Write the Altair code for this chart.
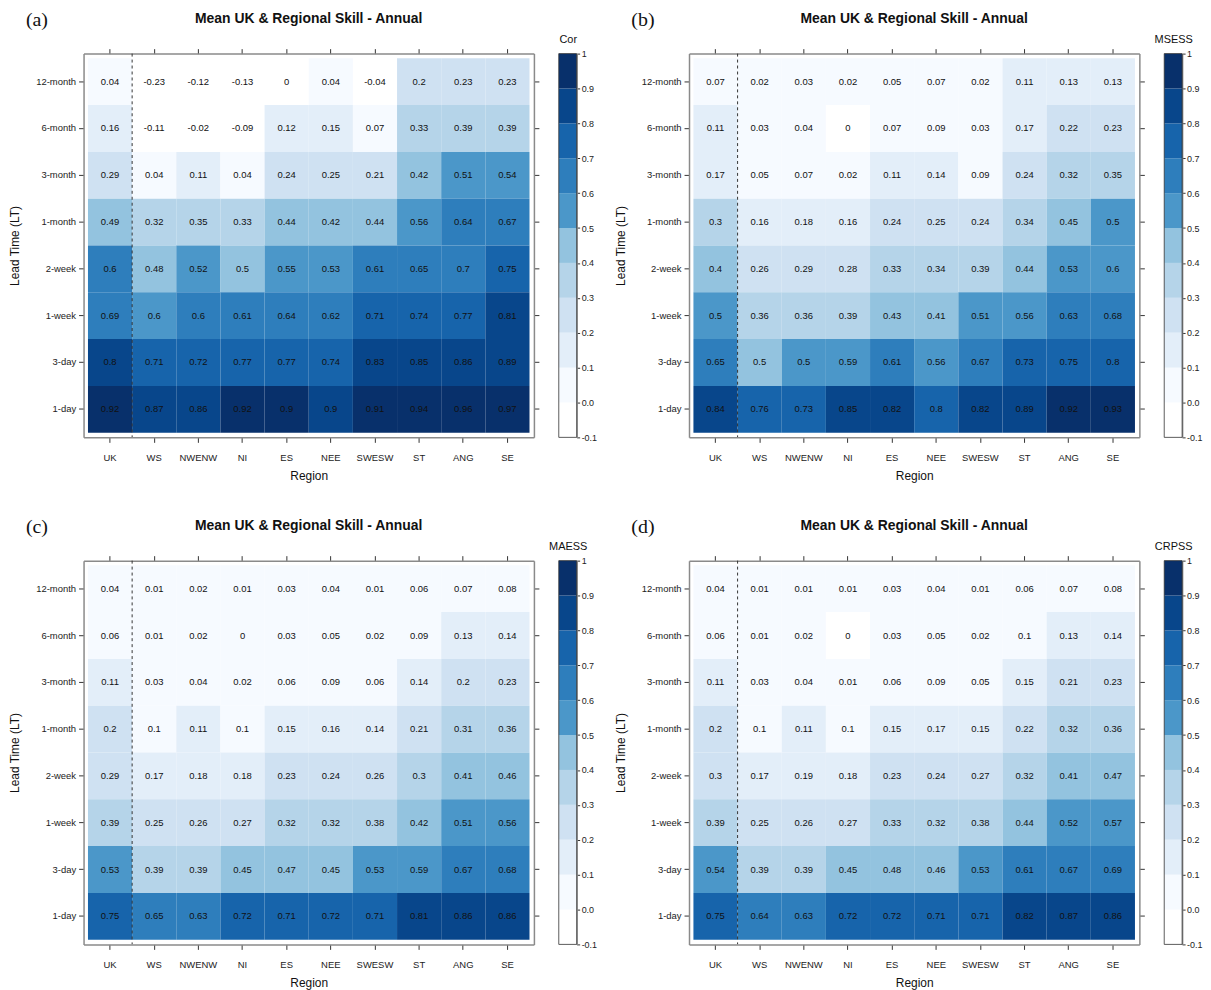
import altair as alt
import pandas as pd

REGIONS = ["UK", "WS", "NWENW", "NI", "ES", "NEE", "SWESW", "ST", "ANG", "SE"]
LEADS = ["12-month", "6-month", "3-month", "1-month", "2-week", "1-week", "3-day", "1-day"]
TITLE = "Mean UK & Regional Skill - Annual"

THRESHOLDS = [0.0, 0.1, 0.2, 0.3, 0.4, 0.5, 0.6, 0.7, 0.8, 0.9]
COLORS = ["#ffffff", "#f6faff", "#e3eef9", "#cfe1f2", "#b5d4e9", "#93c3df",
          "#4b97c9", "#2e7ebc", "#1764ab", "#08468b", "#08306b"]
BAR_EDGES = [-0.1, 0.0, 0.1, 0.2, 0.3, 0.4, 0.5, 0.6, 0.7, 0.8, 0.9, 1.0]

# rows: LEADS (top to bottom), columns: REGIONS
COR = [
    [0.04, -0.23, -0.12, -0.13, -0.001, 0.04, -0.04, 0.2, 0.23, 0.23],
    [0.16, -0.11, -0.02, -0.09, 0.12, 0.15, 0.07, 0.33, 0.39, 0.39],
    [0.29, 0.04, 0.11, 0.04, 0.24, 0.25, 0.21, 0.42, 0.51, 0.54],
    [0.49, 0.32, 0.35, 0.33, 0.44, 0.42, 0.44, 0.56, 0.64, 0.67],
    [0.6, 0.48, 0.52, 0.499, 0.55, 0.53, 0.61, 0.65, 0.699, 0.75],
    [0.69, 0.599, 0.6, 0.61, 0.64, 0.62, 0.71, 0.74, 0.77, 0.81],
    [0.8, 0.71, 0.72, 0.77, 0.77, 0.74, 0.83, 0.85, 0.86, 0.89],
    [0.92, 0.87, 0.86, 0.92, 0.9, 0.899, 0.91, 0.94, 0.96, 0.97],
]
MSESS = [
    [0.07, 0.02, 0.03, 0.02, 0.05, 0.07, 0.02, 0.11, 0.13, 0.13],
    [0.11, 0.03, 0.04, -0.001, 0.07, 0.09, 0.03, 0.17, 0.22, 0.23],
    [0.17, 0.05, 0.07, 0.02, 0.11, 0.14, 0.09, 0.24, 0.32, 0.35],
    [0.3, 0.16, 0.18, 0.16, 0.24, 0.25, 0.24, 0.34, 0.45, 0.5],
    [0.4, 0.26, 0.29, 0.28, 0.33, 0.34, 0.39, 0.44, 0.53, 0.599],
    [0.5, 0.36, 0.36, 0.39, 0.43, 0.41, 0.51, 0.56, 0.63, 0.68],
    [0.65, 0.499, 0.5, 0.59, 0.61, 0.56, 0.67, 0.73, 0.75, 0.799],
    [0.84, 0.76, 0.73, 0.85, 0.82, 0.799, 0.82, 0.89, 0.92, 0.93],
]
MAESS = [
    [0.04, 0.01, 0.02, 0.01, 0.03, 0.04, 0.01, 0.06, 0.07, 0.08],
    [0.06, 0.01, 0.02, 0.001, 0.03, 0.05, 0.02, 0.09, 0.13, 0.14],
    [0.11, 0.03, 0.04, 0.02, 0.06, 0.09, 0.06, 0.14, 0.2, 0.23],
    [0.2, 0.099, 0.11, 0.099, 0.15, 0.16, 0.14, 0.21, 0.31, 0.36],
    [0.29, 0.17, 0.18, 0.18, 0.23, 0.24, 0.26, 0.3, 0.41, 0.46],
    [0.39, 0.25, 0.26, 0.27, 0.32, 0.32, 0.38, 0.42, 0.51, 0.56],
    [0.53, 0.39, 0.39, 0.45, 0.47, 0.45, 0.53, 0.59, 0.67, 0.68],
    [0.75, 0.65, 0.63, 0.72, 0.71, 0.72, 0.71, 0.81, 0.86, 0.86],
]
CRPSS = [
    [0.04, 0.01, 0.01, 0.01, 0.03, 0.04, 0.01, 0.06, 0.07, 0.08],
    [0.06, 0.01, 0.02, -0.001, 0.03, 0.05, 0.02, 0.099, 0.13, 0.14],
    [0.11, 0.03, 0.04, 0.01, 0.06, 0.09, 0.05, 0.15, 0.21, 0.23],
    [0.2, 0.099, 0.11, 0.099, 0.15, 0.17, 0.15, 0.22, 0.32, 0.36],
    [0.299, 0.17, 0.19, 0.18, 0.23, 0.24, 0.27, 0.32, 0.41, 0.47],
    [0.39, 0.25, 0.26, 0.27, 0.33, 0.32, 0.38, 0.44, 0.52, 0.57],
    [0.54, 0.39, 0.39, 0.45, 0.48, 0.46, 0.53, 0.61, 0.67, 0.69],
    [0.75, 0.64, 0.63, 0.72, 0.72, 0.71, 0.71, 0.82, 0.87, 0.86],
]
PANELS = [("(a)", "Cor", COR), ("(b)", "MSESS", MSESS),
          ("(c)", "MAESS", MAESS), ("(d)", "CRPSS", CRPSS)]

HM_W = 453
BAR_GAP = 25
BAR_W = 18
W = HM_W + BAR_GAP + BAR_W
H = 386
FONT = "Liberation Sans"


def fmt(v):
    s = f"{v:.2f}".rstrip("0").rstrip(".")
    return "0" if s in ("-0", "", "-") else s


def panel(letter, metric, values):
    rows = []
    for i, lead in enumerate(LEADS):
        for j, reg in enumerate(REGIONS):
            v = values[i][j]
            rows.append({"region": reg, "lead": lead, "value": v, "label": fmt(v)})
    df = pd.DataFrame(rows)

    xs = alt.Scale(type="band", domain=REGIONS, range=[0, HM_W], paddingInner=0, paddingOuter=0.1)
    ys = alt.Scale(type="band", domain=LEADS, range=[0, H], paddingInner=0, paddingOuter=0.1)
    cs = alt.Scale(type="threshold", domain=THRESHOLDS, range=COLORS)

    base = alt.Chart(df)
    cells = base.mark_rect().encode(
        x=alt.X("region:N", scale=xs,
                axis=alt.Axis(orient="bottom", title="Region", labelPadding=10, titlePadding=9)),
        y=alt.Y("lead:N", scale=ys, axis=alt.Axis(orient="left", title="Lead Time (LT)",
                                                  titlePadding=14)),
        color=alt.Color("value:Q", scale=cs, legend=None),
    )
    labels = base.mark_text(fontSize=9.5, color="#111", font=FONT).encode(
        x=alt.X("region:N", scale=xs,
                axis=alt.Axis(orient="top", labels=False, title=None)),
        y=alt.Y("lead:N", scale=ys,
                axis=alt.Axis(orient="right", labels=False, title=None, offset=-(W - HM_W))),
        text="label:N",
    )
    sep = alt.Chart(pd.DataFrame({"region": [REGIONS[0]]})).mark_rule(
        color="#333", strokeDash=[3, 3], strokeWidth=1
    ).encode(x=alt.X("region:N", scale=xs, bandPosition=1, axis=None))

    bar_df = pd.DataFrame({"lo": BAR_EDGES[:-1], "hi": BAR_EDGES[1:]})
    bar_df["mid"] = [(a + b) / 2 for a, b in zip(BAR_EDGES[:-1], BAR_EDGES[1:])]
    bar_df["b0"] = 0
    bar_df["b1"] = 1
    bxs = alt.Scale(domain=[0, 1], range=[HM_W + BAR_GAP, W], nice=False, zero=False)
    bys = alt.Scale(domain=[BAR_EDGES[0], BAR_EDGES[-1]], nice=False, zero=False)
    bar = alt.Chart(bar_df).mark_rect().encode(
        x=alt.X("b0:Q", scale=bxs,
                axis=alt.Axis(orient="top", title=metric, labels=False, ticks=False,
                              domain=False, grid=False, titlePadding=9,
                              titleFontSize=11, titleFontWeight="normal")),
        x2="b1:Q",
        y=alt.Y("lo:Q", scale=bys,
                axis=alt.Axis(orient="right", values=BAR_EDGES, title=None, grid=False,
                              labelExpr="datum.value == 1 ? '1' : (datum.value < 0 ? '-0.1' : format(datum.value, '.1f'))",
                              tickSize=3, labelPadding=1.5, labelFontSize=9)),
        y2="hi:Q",
        color=alt.Color("mid:Q", scale=cs, legend=None),
    )
    outline = alt.Chart(bar_df.iloc[[0]].assign(lo=BAR_EDGES[0], hi=BAR_EDGES[-1])).mark_rect(
        filled=False, stroke="#333", strokeWidth=0.8
    ).encode(
        x=alt.X("b0:Q", scale=bxs, axis=None), x2="b1:Q",
        y=alt.Y("lo:Q", scale=bys, axis=None), y2="hi:Q",
    )
    tag = alt.Chart(pd.DataFrame({"t": [letter]})).mark_text(
        font="Liberation Serif", fontSize=20, align="left", baseline="middle", color="#111"
    ).encode(text="t:N", x=alt.value(-58), y=alt.value(-34))

    return alt.layer(cells, labels, sep, bar, outline, tag).resolve_scale(
        x="independent", y="independent", color="independent"
    ).properties(
        width=W, height=H,
        title=alt.TitleParams(TITLE, offset=-16, dx=-(W - HM_W) / 2,
                              fontSize=14, fontWeight="bold", font=FONT, color="#111"),
    )


charts = [panel(*p) for p in PANELS]
chart = alt.vconcat(
    alt.hconcat(charts[0], charts[1], spacing=16),
    alt.hconcat(charts[2], charts[3], spacing=16),
    spacing=35,
).properties(padding={"left": 0, "top": -1, "right": 0, "bottom": 0}).configure_view(
    stroke=None
).configure_axis(
    labelFont=FONT, titleFont=FONT, labelFontSize=9.5, titleFontSize=12,
    titleFontWeight="normal", labelColor="#222", titleColor="#111",
    tickColor="#333", tickSize=5, domainColor="#8a8a8a", domainWidth=1.5,
    labelPadding=3, titlePadding=8, labelAngle=0,
)

chart.save("out.html", embed_options={"renderer": "svg", "actions": False})
